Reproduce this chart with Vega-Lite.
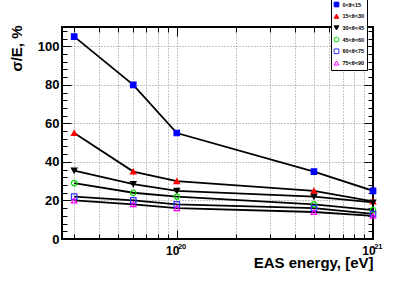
{
  "$schema": "https://vega.github.io/schema/vega-lite/v6.json",
  "width": 311,
  "height": 212,
  "autosize": "none",
  "padding": {"left": 62, "top": 27, "right": 42, "bottom": 42},
  "background": "white",
  "config": {
    "font": "Liberation Sans",
    "view": {"stroke": "black", "strokeWidth": 2},
    "axis": {"tickColor": "black", "tickWidth": 1, "domain": false, "labelColor": "black", "titleColor": "black", "grid": false},
    "legend": {
      "orient": "none", "legendX": 269, "legendY": -28, "padding": 2.5, "zindex": 5,
      "fillColor": "white", "strokeColor": "black", "strokeWidth": 1,
      "labelFontSize": 5.5, "labelFontWeight": "bold", "labelFont": "Liberation Sans",
      "symbolSize": 22, "symbolStrokeWidth": 1, "rowPadding": 1.7, "labelOffset": 3, "title": null
    }
  },
  "data": {"values": [
    {"E": 3e19, "s": 105, "g": "0<θ<15"},
    {"E": 6e19, "s": 80, "g": "0<θ<15"},
    {"E": 1e20, "s": 55, "g": "0<θ<15"},
    {"E": 5e20, "s": 35, "g": "0<θ<15"},
    {"E": 1e21, "s": 25, "g": "0<θ<15"},
    {"E": 3e19, "s": 55, "g": "15<θ<30"},
    {"E": 6e19, "s": 35, "g": "15<θ<30"},
    {"E": 1e20, "s": 30, "g": "15<θ<30"},
    {"E": 5e20, "s": 25, "g": "15<θ<30"},
    {"E": 1e21, "s": 19.5, "g": "15<θ<30"},
    {"E": 3e19, "s": 35.5, "g": "30<θ<45"},
    {"E": 6e19, "s": 28.5, "g": "30<θ<45"},
    {"E": 1e20, "s": 25, "g": "30<θ<45"},
    {"E": 5e20, "s": 22, "g": "30<θ<45"},
    {"E": 1e21, "s": 19, "g": "30<θ<45"},
    {"E": 3e19, "s": 29, "g": "45<θ<60"},
    {"E": 6e19, "s": 24, "g": "45<θ<60"},
    {"E": 1e20, "s": 22, "g": "45<θ<60"},
    {"E": 5e20, "s": 18, "g": "45<θ<60"},
    {"E": 1e21, "s": 15, "g": "45<θ<60"},
    {"E": 3e19, "s": 22, "g": "60<θ<75"},
    {"E": 6e19, "s": 20, "g": "60<θ<75"},
    {"E": 1e20, "s": 18, "g": "60<θ<75"},
    {"E": 5e20, "s": 16, "g": "60<θ<75"},
    {"E": 1e21, "s": 13, "g": "60<θ<75"},
    {"E": 3e19, "s": 20, "g": "75<θ<90"},
    {"E": 6e19, "s": 18, "g": "75<θ<90"},
    {"E": 1e20, "s": 16, "g": "75<θ<90"},
    {"E": 5e20, "s": 14, "g": "75<θ<90"},
    {"E": 1e21, "s": 12, "g": "75<θ<90"}
  ]},
  "layer": [
    {
      "mark": {"type": "line", "color": "black", "strokeWidth": 1.8, "clip": true},
      "encoding": {
        "x": {"field": "E", "type": "quantitative",
          "scale": {"type": "log", "domain": [2.6e19, 1e21], "nice": false},
          "axis": {"orient": "bottom", "zindex": 0,
            "values": [3e19, 4e19, 5e19, 6e19, 7e19, 8e19, 9e19, 1e20, 2e20, 3e20, 4e20, 5e20, 6e20, 7e20, 8e20, 9e20],
            "labels": false, "ticks": false, "tickSize": 0,
            "grid": true, "gridDash": [1, 2], "gridColor": "#888", "gridWidth": 1,
            "title": "EAS energy, [eV]", "titleFontSize": 15, "titleFontWeight": "bold",
            "titleAnchor": "end", "titleAlign": "right", "titleX": 311, "titleY": 28.5, "titleBaseline": "alphabetic"}},
        "y": {"field": "s", "type": "quantitative",
          "scale": {"domain": [0, 110], "nice": false},
          "axis": {"orient": "left", "zindex": 0,
            "values": [20, 40, 60, 80, 100],
            "labels": false, "ticks": false, "tickSize": 0,
            "grid": true, "gridDash": [1, 2], "gridColor": "#888", "gridWidth": 1,
            "title": "σ/E, %", "titleFontSize": 15, "titleFontWeight": "bold",
            "titleAnchor": "end", "titleAngle": -90, "titleAlign": "right", "titleBaseline": "alphabetic",
            "titleX": -41, "titleY": -2}},
        "detail": {"field": "g"}
      }
    },
    {
      "mark": {"type": "line", "opacity": 0},
      "encoding": {
        "x": {"field": "E", "type": "quantitative",
          "axis": {"orient": "bottom", "values": [3e19, 4e19, 5e19, 6e19, 7e19, 8e19, 9e19, 2e20, 3e20, 4e20, 5e20, 6e20, 7e20, 8e20, 9e20],
            "labels": false, "ticks": false, "tickSize": 0, "title": null, "zindex": 0,
            "grid": true, "gridColor": "black", "gridWidth": 1, "gridDash": [5, 202]}},
        "y": {"field": "s", "type": "quantitative",
          "axis": {"orient": "left", "values": [4, 8, 12, 16, 24, 28, 32, 36, 44, 48, 52, 56, 64, 68, 72, 76, 84, 88, 92, 96, 104, 108],
            "labels": false, "ticks": false, "tickSize": 0, "title": null, "zindex": 0,
            "grid": true, "gridColor": "black", "gridWidth": 1, "gridDash": [5, 301]}},
        "detail": {"field": "g"}
      }
    },
    {
      "mark": {"type": "line", "opacity": 0},
      "encoding": {
        "x": {"field": "E", "type": "quantitative",
          "axis": {"orient": "bottom", "values": [1e20],
            "labels": false, "ticks": false, "tickSize": 0, "title": null, "zindex": 0,
            "grid": true, "gridColor": "black", "gridWidth": 1, "gridDash": [9, 194]}},
        "y": {"field": "s", "type": "quantitative",
          "axis": {"orient": "left", "values": [20, 40, 60, 80, 100],
            "labels": false, "ticks": false, "tickSize": 0, "title": null, "zindex": 0,
            "grid": true, "gridColor": "black", "gridWidth": 1, "gridDash": [9, 293]}},
        "detail": {"field": "g"}
      }
    },
    {
      "mark": {"type": "line", "opacity": 0},
      "encoding": {
        "x": {"field": "E", "type": "quantitative",
          "axis": {"orient": "bottom", "values": [1e20, 1e21], "ticks": false, "tickSize": 0, "title": null,
            "labelExpr": "'10'", "labelFlush": false, "labelOverlap": false,
            "labelFontSize": 12, "labelFontWeight": "bold", "labelPadding": 6.7, "labelOffset": -4.5}},
        "y": {"field": "s", "type": "quantitative",
          "axis": {"orient": "left", "values": [0, 20, 40, 60, 80, 100], "ticks": false, "tickSize": 0, "title": null,
            "labelFontSize": 13, "labelFontWeight": "bold", "labelPadding": 3, "labelOverlap": false, "labelFlush": false}},
        "detail": {"field": "g"}
      }
    },
    {
      "mark": {"type": "line", "opacity": 0},
      "encoding": {
        "x": {"field": "E", "type": "quantitative",
          "axis": {"orient": "bottom", "values": [1e20, 1e21], "ticks": false, "tickSize": 0, "title": null,
            "labelExpr": "datum.value == 1e20 ? '20' : '21'", "labelFlush": false, "labelOverlap": false,
            "labelFontSize": 7.5, "labelFontWeight": "bold", "labelPadding": 3, "labelOffset": 4.8}},
        "y": {"field": "s", "type": "quantitative", "axis": null},
        "detail": {"field": "g"}
      }
    },
    {
      "mark": {"type": "point", "filled": false, "opacity": 1, "strokeWidth": 1.2, "size": 30},
      "encoding": {
        "x": {"field": "E", "type": "quantitative", "axis": null},
        "y": {"field": "s", "type": "quantitative", "axis": null},
        "shape": {"field": "g", "type": "nominal",
          "scale": {"domain": ["0<θ<15", "15<θ<30", "30<θ<45", "45<θ<60", "60<θ<75", "75<θ<90"],
                    "range": ["square", "triangle-up", "triangle-down", "circle", "square", "triangle-up"]}},
        "stroke": {"field": "g", "type": "nominal",
          "scale": {"domain": ["0<θ<15", "15<θ<30", "30<θ<45", "45<θ<60", "60<θ<75", "75<θ<90"],
                    "range": ["#0000ff", "#ff0000", "#000000", "#00dd00", "#3333ff", "#ff00ff"]}},
        "fill": {"field": "g", "type": "nominal",
          "scale": {"domain": ["0<θ<15", "15<θ<30", "30<θ<45", "45<θ<60", "60<θ<75", "75<θ<90"],
                    "range": ["#0000ff", "#ff0000", "#000000", "transparent", "transparent", "transparent"]}}
      }
    }
  ],
  "resolve": {"axis": {"x": "independent", "y": "independent"}}
}
